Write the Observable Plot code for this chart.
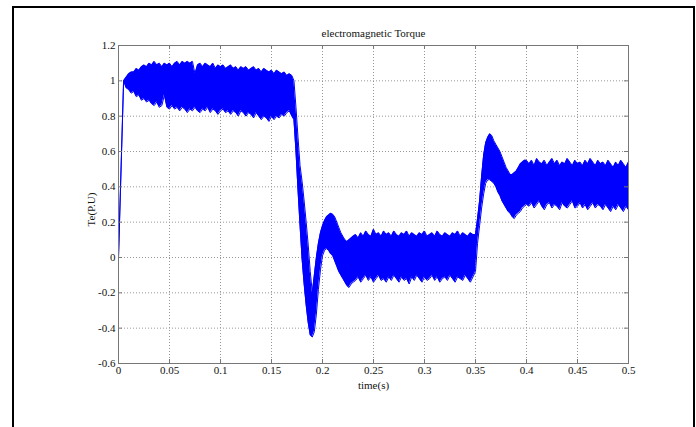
<!DOCTYPE html>
<html><head><meta charset="utf-8">
<script src="https://cdn.jsdelivr.net/npm/d3@7"></script>
<script src="https://cdn.jsdelivr.net/npm/@observablehq/plot@0.6"></script>
<style>
body{margin:0;background:#fff;}
#wrap{position:relative;width:696px;height:427px;overflow:hidden;background:#fff;}
#border{position:absolute;left:12px;top:6px;width:683px;height:440px;border:2px solid #000;border-bottom:none;box-sizing:border-box;}
#chart{position:absolute;left:0;top:0;}
#chart svg, #chart svg text{font-family:"Liberation Serif","DejaVu Serif",serif !important;font-size:11px;}
</style></head><body>
<div id="wrap"><div id="chart"></div><div id="border"></div></div>
<script>
// ---- data (per-unit electromagnetic torque, envelope of the ripple band) ----
const titleText = "electromagnetic Torque";
const xLabelText = "time(s)";
const yLabelText = "Te(P.U)";
const xTicks = [0, 0.05, 0.1, 0.15, 0.2, 0.25, 0.3, 0.35, 0.4, 0.45, 0.5];
const yTicks = [-0.6, -0.4, -0.2, 0, 0.2, 0.4, 0.6, 0.8, 1, 1.2];

// start-up
const startT = [0];
const startV = [0];

// band B: t = 0.005 .. 0.17, step 0.0025
const bandB_t0 = 0.005, bandB_dt = 0.0025;
const bandB_hi = [1.00,1.02,1.04,1.05,1.05,1.07,1.06,1.08,1.09,1.08,1.10,1.09,1.11,1.09,1.10,1.08,1.10,1.09,1.10,1.08,
  1.10,1.11,1.09,1.11,1.10,1.11,1.10,1.11,1.04,1.09,1.10,1.08,1.10,1.09,1.08,1.10,1.07,1.09,1.08,1.09,
  1.07,1.08,1.09,1.07,1.08,1.06,1.08,1.07,1.08,1.06,1.07,1.08,1.06,1.07,1.05,1.07,1.06,1.05,1.06,1.04,
  1.06,1.05,1.04,1.05,1.03,1.04,1.03];
const bandB_lo = [1.00,0.96,0.95,0.93,0.94,0.91,0.92,0.89,0.90,0.88,0.89,0.87,0.86,0.88,0.85,0.86,0.92,0.85,0.84,0.86,
  0.84,0.85,0.83,0.85,0.84,0.82,0.84,0.83,0.85,0.83,0.82,0.84,0.83,0.85,0.82,0.84,0.83,0.81,0.83,0.84,
  0.82,0.83,0.81,0.83,0.82,0.80,0.83,0.82,0.80,0.82,0.81,0.79,0.82,0.80,0.78,0.80,0.79,0.77,0.80,0.78,
  0.80,0.79,0.81,0.80,0.82,0.83,0.80];

// transient 1: t = 0.172 .. 0.230, step 0.002
const tr1_t0 = 0.172, tr1_dt = 0.002;
const tr1_hi = [1.00,0.85,0.68,0.52,0.43,0.32,0.20,0.07,-0.08,-0.20,-0.10,0.00,0.08,0.14,0.18,0.21,0.23,0.24,0.25,0.245,
  0.23,0.20,0.17,0.14,0.12,0.10,0.09,0.10,0.11,0.12];
const tr1_lo = [0.78,0.60,0.38,0.18,-0.01,-0.15,-0.27,-0.37,-0.44,-0.45,-0.42,-0.32,-0.18,-0.07,0.01,0.04,0.05,0.04,0.02,0.01,
  -0.02,-0.05,-0.08,-0.10,-0.12,-0.14,-0.16,-0.17,-0.15,-0.14];

// band C: t = 0.2325 .. 0.3475, step 0.0025
const bandC_t0 = 0.2325, bandC_dt = 0.0025;
const bandC_hi = [0.13,0.11,0.14,0.12,0.15,0.13,0.12,0.16,0.13,0.14,0.12,0.15,0.13,0.14,0.12,0.15,0.13,0.12,0.14,0.13,
  0.15,0.12,0.14,0.13,0.12,0.14,0.13,0.15,0.12,0.13,0.14,0.12,0.15,0.13,0.12,0.14,0.13,0.12,0.14,0.13,
  0.15,0.12,0.14,0.13,0.12,0.14,0.13];
const bandC_lo = [-0.13,-0.11,-0.14,-0.12,-0.10,-0.13,-0.11,-0.14,-0.12,-0.10,-0.13,-0.12,-0.14,-0.11,-0.13,-0.10,-0.12,-0.14,-0.11,-0.13,
  -0.12,-0.15,-0.11,-0.13,-0.10,-0.12,-0.14,-0.11,-0.13,-0.12,-0.10,-0.13,-0.11,-0.14,-0.12,-0.11,-0.13,-0.10,-0.12,-0.14,
  -0.11,-0.12,-0.13,-0.10,-0.12,-0.14,-0.11];

// transient 2: t = 0.350 .. 0.400, step 0.002
const tr2_t0 = 0.350, tr2_dt = 0.002;
const tr2_hi = [0.13,0.22,0.32,0.46,0.58,0.65,0.68,0.70,0.69,0.66,0.64,0.62,0.60,0.57,0.54,0.51,0.49,0.47,0.47,0.48,
  0.49,0.51,0.53,0.54,0.55,0.55];
const tr2_lo = [-0.08,0.08,0.18,0.28,0.36,0.42,0.44,0.44,0.43,0.42,0.40,0.37,0.35,0.32,0.30,0.28,0.26,0.25,0.23,0.22,
  0.24,0.25,0.26,0.28,0.29,0.30];

// band E: t = 0.4025 .. 0.5, step 0.0025
const bandE_t0 = 0.4025, bandE_dt = 0.0025;
const bandE_hi = [0.53,0.55,0.52,0.56,0.54,0.53,0.55,0.52,0.54,0.56,0.53,0.55,0.52,0.54,0.53,0.56,0.54,0.52,0.55,0.53,
  0.54,0.52,0.55,0.53,0.56,0.54,0.52,0.55,0.53,0.54,0.52,0.55,0.53,0.51,0.54,0.52,0.55,0.53,0.51,0.54];
const bandE_lo = [0.29,0.31,0.28,0.30,0.32,0.29,0.27,0.30,0.31,0.28,0.30,0.29,0.27,0.31,0.29,0.28,0.30,0.32,0.28,0.29,
  0.31,0.28,0.30,0.27,0.29,0.31,0.28,0.30,0.29,0.27,0.30,0.28,0.26,0.29,0.27,0.30,0.28,0.26,0.29,0.27];

// ---- assemble table ----
const rows = [];
startT.forEach((t, i) => rows.push({t, hi: startV[i], lo: startV[i]}));
function addSeg(t0, dt, hi, lo) {
  hi.forEach((h, i) => rows.push({t: +(t0 + i * dt).toFixed(5), hi: h, lo: lo[i]}));
}
addSeg(bandB_t0, bandB_dt, bandB_hi, bandB_lo);
addSeg(tr1_t0, tr1_dt, tr1_hi, tr1_lo);
addSeg(bandC_t0, bandC_dt, bandC_hi, bandC_lo);
addSeg(tr2_t0, tr2_dt, tr2_hi, tr2_lo);
addSeg(bandE_t0, bandE_dt, bandE_hi, bandE_lo);

const blue = "#0000ff";
const axisGray = "#777";
const fmt = d => String(d);
const serif = "'Liberation Serif', 'DejaVu Serif', serif";

const plot = Plot.plot({
  width: 696, height: 427,
  marginLeft: 118, marginRight: 68, marginTop: 45, marginBottom: 64,
  style: {fontFamily: serif, fontSize: "11px", background: "transparent", color: "#111"},
  x: {domain: [0, 0.5]},
  y: {domain: [-0.6, 1.2]},
  marks: [
    Plot.gridX(xTicks, {stroke: "#999", strokeOpacity: 1, strokeDasharray: "1,2"}),
    Plot.gridY(yTicks, {stroke: "#999", strokeOpacity: 1, strokeDasharray: "1,2"}),
    Plot.areaY(rows, {x: "t", y1: "lo", y2: "hi", fill: blue}),
    Plot.line(rows, {x: "t", y: "hi", stroke: blue, strokeWidth: 1}),
    Plot.line(rows, {x: "t", y: "lo", stroke: blue, strokeWidth: 1}),
    Plot.frame({stroke: axisGray}),
    Plot.tickX(xTicks, {x: d => d, stroke: axisGray, insetTop: 314}),
    Plot.tickX(xTicks, {x: d => d, stroke: axisGray, insetBottom: 314}),
    Plot.tickY(yTicks, {y: d => d, stroke: axisGray, insetRight: 506}),
    Plot.tickY(yTicks, {y: d => d, stroke: axisGray, insetLeft: 506}),
    Plot.axisX(xTicks, {tickSize: 0, tickPadding: 3, tickFormat: fmt, label: null, fontFamily: serif}),
    Plot.axisY(yTicks, {tickSize: 0, tickPadding: 3, tickFormat: fmt, label: null, fontFamily: serif}),
    Plot.text([titleText], {text: d => d, frameAnchor: "top", textAnchor: "middle", lineAnchor: "middle", dy: -12, fill: "#111", fontFamily: serif}),
    Plot.text([xLabelText], {text: d => d, frameAnchor: "bottom", textAnchor: "middle", lineAnchor: "middle", dy: 22, fill: "#111", fontFamily: serif}),
    Plot.text([yLabelText], {text: d => d, frameAnchor: "left", textAnchor: "middle", lineAnchor: "middle", dx: -27, dy: 5, rotate: -90, fill: "#111", fontFamily: serif})
  ]
});
document.getElementById("chart").appendChild(plot);
</script>
</body></html>
